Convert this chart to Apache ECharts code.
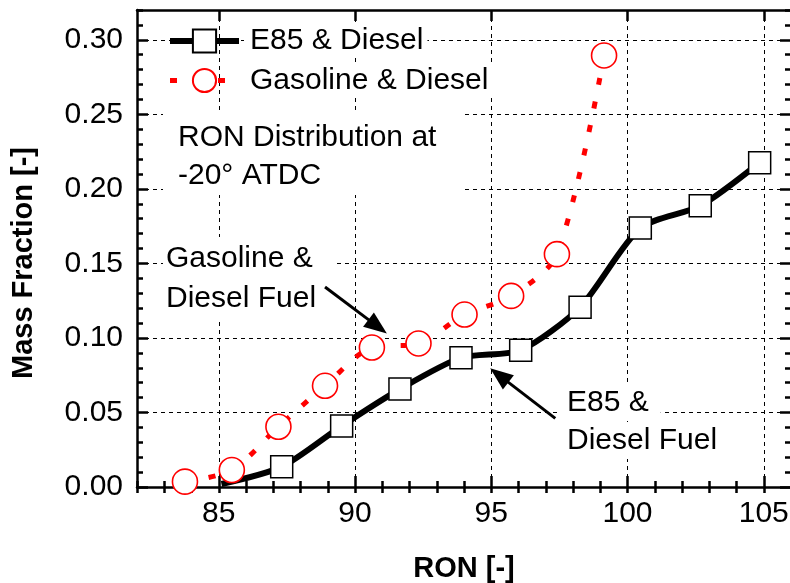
<!DOCTYPE html>
<html>
<head>
<meta charset="utf-8">
<script src="https://cdn.jsdelivr.net/npm/echarts@6/dist/echarts.min.js"></script>
<style>
  html, body { margin: 0; padding: 0; background: #fff; }
  #chart { width: 790px; height: 583px; }
</style>
</head>
<body>
<div id="chart"></div>
<script>
// RON distribution of the fuel mixture at -20 deg ATDC
const e85Ron   = [85.1, 87.31, 89.51, 91.65, 93.89, 96.08, 98.26, 100.47, 102.67, 104.85];
const e85Frac  = [0.002, 0.0136, 0.041, 0.0657, 0.0867, 0.0918, 0.1206, 0.1738, 0.1886, 0.2176];
const gasRon   = [83.76, 85.48, 87.19, 88.90, 90.62, 92.33, 94.02, 95.73, 97.41, 99.14];
const gasFrac  = [0.0036, 0.0114, 0.0404, 0.0679, 0.0936, 0.0963, 0.1157, 0.1282, 0.1562, 0.2895];

const seriesNames = ['E85 & Diesel', 'Gasoline & Diesel'];
const ronTicks  = [85, 90, 95, 100, 105];
const fracTicks = [0, 0.05, 0.10, 0.15, 0.20, 0.25, 0.30];
const ronRange  = [82, 106];
const fracRange = [0, 0.32];

const FONT = '"Liberation Sans", Arial, Helvetica, sans-serif';
const AXIS_W = 2.5;

const chart = echarts.init(document.getElementById('chart'), null, { renderer: 'canvas' });

// Major axis: ticks (and labels on bottom/left) at the listed values
function majorX(position, withLabels) {
  return {
    type: 'value', position, min: ronRange[0], max: ronRange[1],
    axisLine: { show: true, onZero: false, lineStyle: { color: '#000', width: AXIS_W } },
    axisTick: { show: true, inside: true, length: 11, customValues: ronTicks,
                lineStyle: { color: '#000', width: AXIS_W } },
    axisLabel: withLabels
      ? { show: true, customValues: ronTicks, fontSize: 30, color: '#000', fontFamily: FONT, margin: 12 }
      : { show: false },
    splitLine: withLabels
      ? { show: true, lineStyle: { color: '#000', width: 1, type: [4, 4] } }
      : { show: false }
  };
}
// Minor tick axis: one short tick per RON unit
function minorX(position) {
  return {
    type: 'value', position, min: ronRange[0], max: ronRange[1], interval: 1,
    axisLine: { show: false },
    axisTick: { show: true, inside: true, length: 6, lineStyle: { color: '#000', width: AXIS_W } },
    axisLabel: { show: false }, splitLine: { show: false }
  };
}
function majorY(position, withLabels) {
  return {
    type: 'value', position, min: fracRange[0], max: fracRange[1],
    axisLine: { show: true, onZero: false, lineStyle: { color: '#000', width: AXIS_W } },
    axisTick: { show: true, inside: true, length: 11, customValues: fracTicks,
                lineStyle: { color: '#000', width: AXIS_W } },
    axisLabel: withLabels
      ? { show: true, customValues: fracTicks, fontSize: 30, color: '#000', fontFamily: FONT, margin: 14,
          formatter: v => v.toFixed(2) }
      : { show: false },
    splitLine: withLabels
      ? { show: true, lineStyle: { color: '#000', width: 1, type: [4, 4] } }
      : { show: false }
  };
}
function minorY(position) {
  return {
    type: 'value', position, min: fracRange[0], max: fracRange[1], interval: 0.01,
    axisLine: { show: false },
    axisTick: { show: true, inside: true, length: 6, lineStyle: { color: '#000', width: AXIS_W } },
    axisLabel: { show: false }, splitLine: { show: false }
  };
}

const xBottom = majorX('bottom', true);
xBottom.name = 'RON [-]';
xBottom.nameLocation = 'middle';
xBottom.nameGap = 67;
xBottom.nameTextStyle = { fontSize: 29, fontWeight: 'bold', color: '#000', fontFamily: FONT };

const zip = (xs, ys) => xs.map((x, i) => [x, ys[i]]);

chart.setOption({
  animation: false,
  backgroundColor: '#fff',
  grid: { left: 137, right: -1, top: 10, bottom: 96, containLabel: false, outerBoundsMode: 'none' },
  xAxis: [xBottom, minorX('bottom'), majorX('top', false), minorX('top')],
  yAxis: [majorY('left', true), minorY('left'), majorY('right', false), minorY('right')],
  legend: {
    data: seriesNames,
    orient: 'vertical', left: 167, top: 25, padding: 0,
    itemWidth: 69, itemHeight: 29, itemGap: 7.5,
    selectedMode: false,
    lineStyle: { width: 'inherit', type: 'inherit', cap: 'butt' },
    textStyle: { fontSize: 30, color: '#000', fontFamily: FONT, lineHeight: 30,
                 backgroundColor: '#fff', padding: [1, 4, 1, 6] }
  },
  series: [
    {
      name: seriesNames[0], type: 'line', xAxisIndex: 0, yAxisIndex: 0,
      smooth: 0.25, clip: false,
      symbol: 'rect', symbolSize: 22,
      data: zip(e85Ron, e85Frac).map((p, i) => i === 0 ? { value: p, symbol: 'none' } : p),
      lineStyle: { color: '#000', width: 6 },
      itemStyle: { color: '#fff', borderColor: '#000', borderWidth: 1.5 },
      z: 3
    },
    {
      name: seriesNames[1], type: 'line', xAxisIndex: 0, yAxisIndex: 0,
      smooth: 0.3, clip: false,
      symbol: 'circle', symbolSize: 25,
      data: zip(gasRon, gasFrac),
      lineStyle: { color: '#ff0000', width: 5, type: [7, 17], cap: 'butt' },
      itemStyle: { color: '#fff', borderColor: '#ff0000', borderWidth: 1.6 },
      z: 4
    }
  ]
});

// Annotations: text blocks (x/top give the white box corner) and arrows pointing at the curves
const notes = [
  { lines: ['RON Distribution at', '-20\u00b0 ATDC'], x: 163, top: 111, lineHeight: 38, perLine: false, padding: [8, 27, 0, 15] },
  { lines: ['Gasoline &', 'Diesel Fuel'], x: 163, top: 237, lineHeight: 39.5, perLine: false, padding: [2, 17, 0, 3] },
  { lines: ['E85 &', 'Diesel Fuel'], x: 560, top: 384, lineHeight: 38, perLine: true, padding: [3, 12, 1, 7] }
];
// Arrow tail and tip in data coordinates [RON, mass fraction]
const arrows = [
  { from: [88.90, 0.1342], to: [91.17, 0.103] },
  { from: [97.35, 0.046],  to: [94.96, 0.0796] }
];

const graphics = [];
notes.forEach(n => {
  const base = { fill: '#000', fontSize: 30, fontFamily: FONT, backgroundColor: '#fff' };
  if (n.perLine) {
    n.lines.forEach((t, i) => {
      graphics.push({ type: 'text', x: n.x, y: n.top + i * n.lineHeight + n.lineHeight / 2, z: 50,
        style: Object.assign({}, base, { text: t, lineHeight: n.lineHeight - 6, padding: n.padding,
          align: 'left', verticalAlign: 'middle' }) });
    });
  } else {
    graphics.push({ type: 'text', x: n.x, y: n.top, z: 50,
      style: Object.assign({}, base, { text: n.lines.join('\n'), lineHeight: n.lineHeight, padding: n.padding,
        align: 'left', verticalAlign: 'top' }) });
  }
});

arrows.forEach(a => {
  const p0 = chart.convertToPixel({ xAxisIndex: 0, yAxisIndex: 0 }, a.from);
  const p1 = chart.convertToPixel({ xAxisIndex: 0, yAxisIndex: 0 }, a.to);
  const dx = p1[0] - p0[0], dy = p1[1] - p0[1];
  const len = Math.sqrt(dx * dx + dy * dy);
  const ux = dx / len, uy = dy / len;
  const headLen = 23, headHalf = 9;
  const bx = p1[0] - ux * headLen, by = p1[1] - uy * headLen;
  graphics.push({ type: 'line', z: 60,
    shape: { x1: p0[0], y1: p0[1], x2: bx + ux * 2, y2: by + uy * 2 },
    style: { stroke: '#000', lineWidth: 3 } });
  graphics.push({ type: 'polygon', z: 60,
    shape: { points: [[p1[0], p1[1]], [bx - uy * headHalf, by + ux * headHalf], [bx + uy * headHalf, by - ux * headHalf]] },
    style: { fill: '#000' } });
});

// Vertical axis title
graphics.push({ type: 'text', x: 24, y: 263, rotation: Math.PI / 2, z: 50,
  style: { text: 'Mass Fraction [-]', fill: '#000', fontSize: 29, fontWeight: 'bold', fontFamily: FONT,
           align: 'center', verticalAlign: 'middle' } });

chart.setOption({ graphic: graphics });
</script>
</body>
</html>
